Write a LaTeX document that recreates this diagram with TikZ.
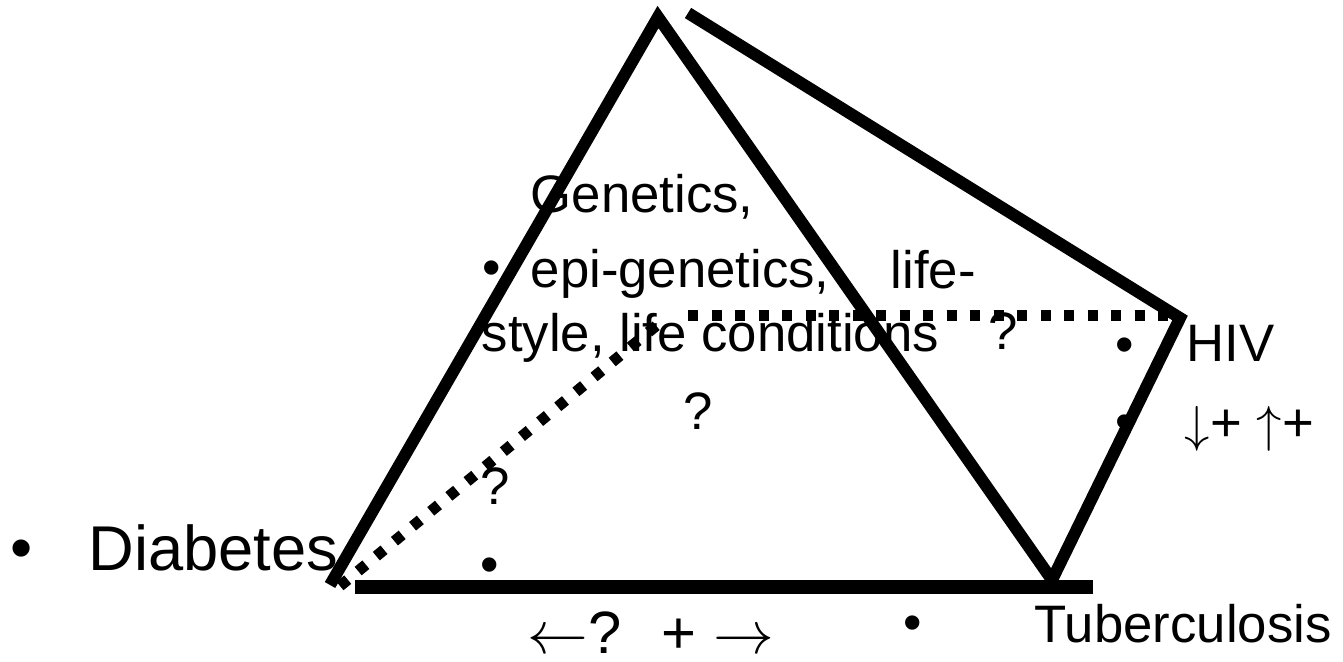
\documentclass[tikz,border=0pt]{standalone}
\usepackage{fontspec}
\setmainfont{Liberation Sans}
\usetikzlibrary{positioning}

\begin{document}
\begin{tikzpicture}[
    edge/.style={line width=0.12cm},
    dotline/.style={line width=0.11cm,dash pattern=on 0.1cm off 0.135cm},
    txt/.style={inner sep=0pt,anchor=base west,font=\fontsize{15}{18}\selectfont},
    big/.style={inner sep=0pt,anchor=base west,font=\fontsize{18}{21}\selectfont},
    dot/.style={inner sep=0pt,font=\fontsize{15}{18}\selectfont}]
\useasboundingbox[fill=white] (0,0) rectangle (13.43,-6.62);
% corners
\coordinate (diab) at (3.30,-5.85);
\coordinate (apex) at (6.58,-0.17);
\coordinate (tb) at (10.52,-5.80);
\coordinate (top) at (6.88,-0.13);
\coordinate (hiv) at (11.80,-3.18);
\coordinate (base1) at (3.55,-5.87);
\coordinate (base2) at (10.93,-5.87);
\coordinate (dstart) at (3.40,-5.86);
\coordinate (mid) at (6.62,-3.21);
\coordinate (hstart) at (6.88,-3.16);
\coordinate (hend) at (11.76,-3.16);
\draw[edge] (diab) -- (apex) -- (tb);
\draw[edge] (top) -- (hiv) -- (tb);
\draw[line width=0.14cm] (base1) -- (base2);
\draw[dotline] (dstart) -- (mid);
\draw[dotline] (hstart) -- (hend);
% labels
\node[big] (diabetes) at (0.88,-5.70) {Diabetes};
\node[dot,font=\fontsize{18}{21}\selectfont] (b1) at (0.22,-5.55) {•};
\node[txt] (gen) at (5.30,-2.13) {Genetics,};
\node[dot] (b2) at (4.92,-2.73) {•};
\node[txt] (epi) at (5.30,-2.88) {epi-genetics,};
\node[txt] (life) at (8.90,-2.89) {life-};
\node[txt] (style) at (4.81,-3.52) {style, life conditions};
\node[txt] (q1) at (9.88,-3.50) {?};
\node[txt] (q2) at (6.83,-4.30) {?};
\node[txt] (q3) at (4.80,-5.05) {?};
\node[dot] (b3) at (4.90,-5.70) {•};
\node[dot] (b4) at (11.25,-3.50) {•};
\node[txt] (hivlbl) at (11.86,-3.62) {HIV};
\node[dot] (b5) at (11.25,-4.27) {•};
\node[txt,font=\fontsize{15.5}{18}\selectfont] (updown) at (11.84,-4.42) {$\downarrow$+ $\uparrow$+};
\node[txt,font=\fontsize{17}{20}\selectfont] (arrows) at (5.27,-6.53) {$\leftarrow$?\hspace{0.4cm}+ $\rightarrow$};
\node[dot] (b6) at (9.13,-6.28) {•};
\node[txt] (tuber) at (10.34,-6.42) {Tuberculosis};
\end{tikzpicture}
\end{document}
